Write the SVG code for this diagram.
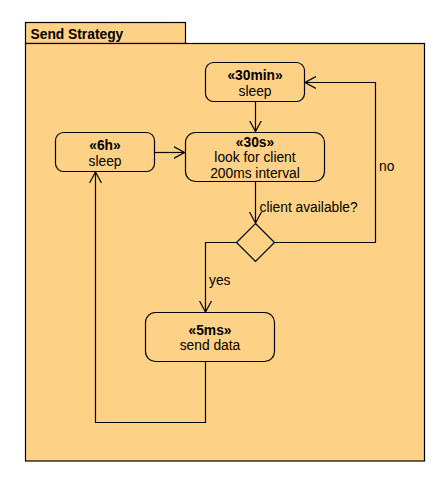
<svg xmlns="http://www.w3.org/2000/svg" width="443" height="492" viewBox="0 0 443 492">
<defs>
<style>
.pkg{fill:#fed286;stroke:#000;stroke-width:1.2}
.node rect{fill:#fed286;stroke:#000;stroke-width:1.2}
.node polygon{fill:#fed286;stroke:#000;stroke-width:1.2}
text{font-family:"Liberation Sans",Arial,sans-serif;font-size:13.8px;fill:#000}
.b{font-weight:bold}
.c{text-anchor:middle}
.edge{fill:none;stroke:#000;stroke-width:1.2}
</style>
<marker id="arr" viewBox="0 0 12 14" refX="11" refY="7" markerWidth="12" markerHeight="14" markerUnits="userSpaceOnUse" orient="auto">
<path d="M0,1 L11,7 L0,13" fill="none" stroke="#000" stroke-width="1.2"/>
</marker>
</defs>
<rect width="443" height="492" fill="#fff"/>
<g id="package">
<rect class="pkg" x="25.5" y="22.5" width="160" height="21"/>
<rect class="pkg" x="25.5" y="43.5" width="399" height="417.5"/>
<text class="b" x="30.5" y="38.5">Send Strategy</text>
</g>
<g id="connectors">
<path class="edge" d="M255.5,101.5 V131.5" marker-end="url(#arr)"/>
<path class="edge" d="M154.5,152.5 H184.5" marker-end="url(#arr)"/>
<path class="edge" d="M255.5,181.5 V223" marker-end="url(#arr)"/>
<path class="edge" d="M274.5,242.5 H375.5 V82.5 H305" marker-end="url(#arr)"/>
<path class="edge" d="M236.5,242.5 H205.5 V312" marker-end="url(#arr)"/>
<path class="edge" d="M205.5,361.5 V422.5 H95.5 V172" marker-end="url(#arr)"/>
<text x="259.5" y="212">client available?</text>
<text x="379" y="171">no</text>
<text x="209" y="285">yes</text>
</g>
<g id="sleep30min" class="node">
<rect x="205.5" y="62.5" width="99" height="39" rx="8"/>
<text class="b c" x="255" y="80">«30min»</text>
<text class="c" x="255" y="95.5">sleep</text>
</g>
<g id="sleep6h" class="node">
<rect x="55.5" y="132.5" width="99" height="39" rx="8"/>
<text class="b c" x="105" y="150">«6h»</text>
<text class="c" x="105" y="165.5">sleep</text>
</g>
<g id="lookforclient" class="node">
<rect x="185.5" y="132.5" width="139" height="49" rx="10"/>
<text class="b c" x="255" y="146.5">«30s»</text>
<text class="c" x="255" y="162">look for client</text>
<text class="c" x="255" y="178">200ms interval</text>
</g>
<g id="decision" class="node">
<polygon points="255.5,223.5 274.5,242.5 255.5,261.5 236.5,242.5"/>
</g>
<g id="senddata" class="node">
<rect x="145.5" y="312.5" width="129" height="49" rx="10"/>
<text class="b c" x="210" y="334.5">«5ms»</text>
<text class="c" x="210" y="350">send data</text>
</g>
</svg>
